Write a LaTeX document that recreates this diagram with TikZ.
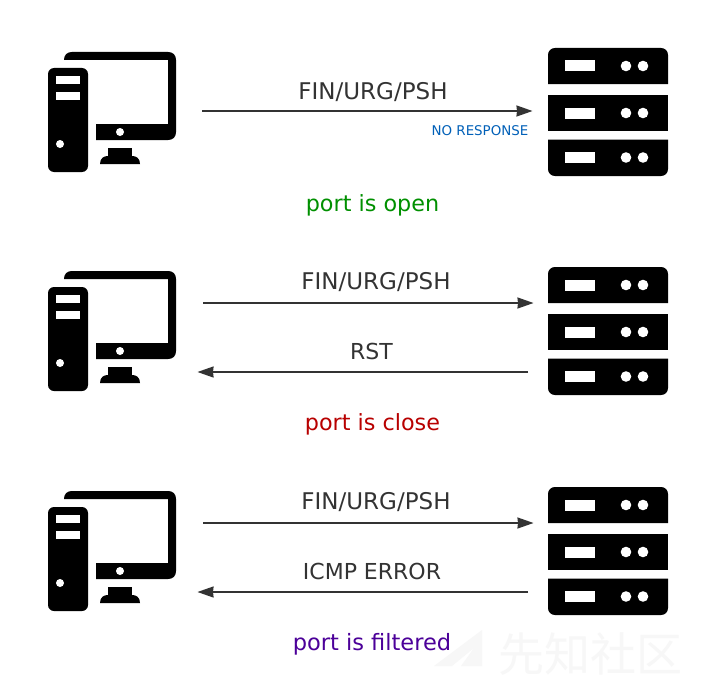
\documentclass[tikz,border=0pt]{standalone}
\usepackage{fontspec}
\setmainfont{DejaVu Sans}
\newfontfamily\cjkwm{Noto Sans CJK SC}
\usetikzlibrary{arrows.meta}
\definecolor{lineC}{HTML}{333333}
\definecolor{blueC}{HTML}{0060B8}
\definecolor{greenC}{HTML}{009000}
\definecolor{redC}{HTML}{B80000}
\definecolor{purpleC}{HTML}{4C0099}
\definecolor{wmC}{HTML}{F7F7F7}
\tikzset{
  x=1pt,y=-1pt,
  flow/.style={draw=lineC,line width=1.5pt,-{Stealth[length=16pt,width=11pt,inset=0.5pt]}},
  lbl/.style={text=lineC,font=\fontsize{23}{27}\selectfont,inner sep=0pt,anchor=center},
  lblsmall/.style={text=lineC,font=\fontsize{22}{27}\selectfont,inner sep=0pt,anchor=center},
  status/.style={font=\fontsize{22.3}{27}\selectfont,inner sep=0pt,anchor=center},
  computer/.pic={
    \fill[black] (64,60) .. controls (64,55) and (67,52) .. (72,52) -- (168,52) .. controls (173,52) and (176,55) .. (176,60) -- (176,132) .. controls (176,137) and (173,140) .. (168,140) -- (96,140) -- (96,124) -- (168,124) -- (168,60) -- cycle;
    \fill[black] (108,148) rectangle (132,156);
    \fill[black] (100,164) .. controls (100,158) and (104,156) .. (108,156) -- (132,156) .. controls (136,156) and (140,158) .. (140,164) -- cycle;
    \fill[white] (120,132) circle[radius=4];
    \fill[black,rounded corners=6pt] (48,68) rectangle (88,172);
    \fill[white] (56,76) rectangle (80,84);
    \fill[white] (56,92) rectangle (80,100);
    \fill[white] (60,144) circle[radius=4];
  },
  server/.pic={
    \fill[black] (548,84) -- (548,55) .. controls (548,51) and (551,48) .. (555,48) -- (661,48) .. controls (665,48) and (668,51) .. (668,55) -- (668,84) -- cycle;
    \fill[black] (548,95) rectangle (668,131);
    \fill[black] (548,139.5) -- (548,169) .. controls (548,173) and (551,176) .. (555,176) -- (661,176) .. controls (665,176) and (668,173) .. (668,169) -- (668,139.5) -- cycle;
    \foreach \yy in {66,113,157.5}{
      \fill[white] (565,\yy-5.5) rectangle (595,\yy+5.5);
      \fill[white] (626,\yy) circle[radius=5.3];
      \fill[white] (643,\yy) circle[radius=5.3];
    }
  }
}
\begin{document}
\begin{tikzpicture}
\useasboundingbox (0,0) rectangle (704,693);
\fill[white] (0,0) rectangle (704,693);
% watermark
\fill[wmC] (434,666) -- (482,630) -- (482,666) -- (461,666) -- (474,648) -- (452,666) -- cycle;
\node[text=wmC,font=\cjkwm\fontsize{46}{48}\selectfont,inner sep=0pt] (wm) at (590,654) {先知社区};
% icons
\pic (pc1) at (0,0) {computer};
\pic (pc2) at (0,219) {computer};
\pic (pc3) at (0,439) {computer};
\pic (sv1) at (0,0) {server};
\pic (sv2) at (0,219) {server};
\pic (sv3) at (0,439) {server};
% anchors
\coordinate (a1) at (202,111); \coordinate (b1) at (532.5,111);
\coordinate (a2) at (203,303); \coordinate (b2) at (533.5,303);
\coordinate (c2) at (528,372); \coordinate (d2) at (197.5,372);
\coordinate (a3) at (203,523); \coordinate (b3) at (533.5,523);
\coordinate (c3) at (528,592); \coordinate (d3) at (197.5,592);
\draw[flow] (a1) -- (b1);
\draw[flow] (a2) -- (b2);
\draw[flow] (c2) -- (d2);
\draw[flow] (a3) -- (b3);
\draw[flow] (c3) -- (d3);
% labels
\node[lbl] (l1) at (373,92.5) {FIN/URG/PSH};
\node[text=blueC,font=\fontsize{13.4}{15}\selectfont,inner sep=0pt] (nr) at (480,131) {NO RESPONSE};
\node[status,text=greenC] (s1) at (372.5,205) {port is open};
\node[lbl] (l2) at (376,282.5) {FIN/URG/PSH};
\node[lblsmall] (l3) at (371.5,351.5) {RST};
\node[status,text=redC] (s2) at (372.5,424) {port is close};
\node[lbl] (l4) at (376,502.5) {FIN/URG/PSH};
\node[lblsmall] (l5) at (372,571.5) {ICMP ERROR};
\node[status,text=purpleC,font=\fontsize{22.5}{27}\selectfont] (s3) at (372,644) {port is filtered};
\end{tikzpicture}
\end{document}
